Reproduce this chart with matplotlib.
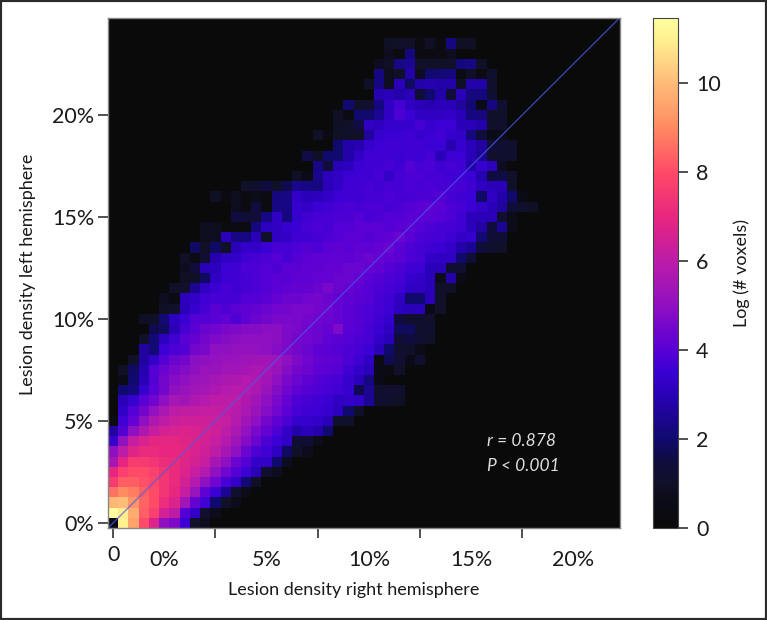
import matplotlib
matplotlib.use("Agg")
import matplotlib.pyplot as plt
import numpy as np
from matplotlib.colors import LinearSegmentedColormap
from matplotlib.patches import Rectangle

plt.rcParams['font.family'] = ['Lato', 'DejaVu Sans']

# first occupied column of every row, bottom row first (1 column = 0.5 %)
first_col = [0, 0, 0, 0, 0, 0, 0, 0, 0, 0, 0, 1, 1, 1, 1, 1, 2, 3, 3, 4, 3, 5, 5, 6,
             7, 7, 7, 8, 9, 9, 12, 12, 10, 13, 18, 20, 19, 22, 20, 22, 22, 23, 26, 25, 26, 26, 27, 27]

# log(# voxels) per cell, row by row
log_voxels = [
    [.5, 11, 9.5, 8, 6.7, 5, 4.7, 3.5, 1, .8],
    [11.4, 10.9, 9.7, 8.3, 7.7, 6.5, 6, 3.9, 3.3, 1.1, .7],
    [9.9, 10, 9.2, 8.4, 8, 7.2, 6.7, 5.4, 4.2, 3.6, 2, 1, .7],
    [8.6, 9, 8.8, 8.3, 8, 7.4, 7, 6.2, 5.2, 4.1, 3.5, 2.5, 1.1, .7],
    [7.6, 8.3, 8.3, 8.1, 7.9, 7.4, 7.1, 6.5, 5.8, 5, 4.4, 3.7, 3.3, 2.1, .9],
    [7, 7.7, 8, 8, 7.7, 7.4, 7.1, 6.7, 6.2, 5.8, 5, 4.4, 3.9, 3.5, 3, 1.1, .8],
    [5.5, 6.9, 7.6, 7.6, 7.4, 7.2, 7.1, 6.8, 6.5, 6.2, 5.5, 5, 4.3, 3.9, 3.3, 3.3, 2, .8],
    [5, 6, 6.8, 7.1, 7.1, 7, 7, 6.9, 6.6, 6.4, 6, 5.5, 5, 4.3, 3.8, 3.6, 3.2, 1.9, 1, .7],
    [3.4, 5.1, 6.2, 6.6, 6.9, 6.9, 6.9, 6.8, 6.7, 6.5, 6.2, 5.8, 5.3, 4.8, 4.3, 3.8, 3.5, 3.2, 1.3, 1.3, .7],
    [2.7, 3.9, 5, 5.7, 6.2, 6.5, 6.6, 6.7, 6.6, 6.5, 6.4, 6, 5.6, 5.1, 4.6, 4.2, 3.8, 3.3, 2.8, 3, 2.8, 2],
    [.3, 3.6, 4.2, 5, 5.7, 6, 6.3, 6.4, 6.4, 6.4, 6.3, 6.2, 5.8, 5.4, 5, 4.5, 4.1, 3.8, 3.4, 3.4, 3.3, 3, 1, 1],
    [3.3, 3.9, 4.5, 5.1, 5.6, 6, 6.1, 6.1, 6.2, 6.2, 6.1, 5.9, 5.6, 5.2, 4.8, 4.4, 4, 3.7, 3.6, 3.5, 3.4, 3.1, 2, 1],
    [3, 3.4, 4, 4.4, 5, 5.5, 5.4, 5.7, 5.8, 6, 6, 6, 5.7, 5.4, 5, 4.6, 4.2, 3.8, 3.7, 3.6, 3.5, 3.2, 3.3, 3.2, 2.5, 1.2, 1.1, .9],
    [2, 2.2, 3.4, 4, 4.5, 5, 5.2, 5.4, 5.5, 5.7, 5.8, 5.9, 5.8, 5.6, 5.2, 4.8, 4.4, 4.1, 3.9, 3.8, 3.7, 3.6, 3.4, 1.7, 2.5, 1.1, 1.1, 1.1],
    [.5, 2, 3, 3.9, 4.5, 4.8, 5, 5.2, 5.3, 5.5, 5.6, 5.7, 5.8, 5.7, 5.4, 5, 4.6, 4.3, 4.1, 3.9, 3.8, 3.7, 3.4, 3, 2.2, .5],
    [.9, 1.9, 2.9, 3.9, 4.3, 4.6, 4.8, 5, 5.2, 5.2, 5.4, 5.4, 5.5, 5.6, 5.5, 5.2, 4.8, 4.5, 4.3, 4.1, 4, 3.9, 3.6, 3.3, 3, .5, .3, 1],
    [1, 2.7, 3.3, 3.9, 4.3, 4.5, 4.9, 5, 5.1, 5.2, 5.2, 5.3, 5.4, 5.4, 5.3, 5, 4.7, 4.4, 4.2, 4.1, 4, 3.8, 3.6, 3.2, .4, 1.7, 1.2, .5, 1.1],
    [2.7, 2.1, 3.5, 3.8, 3.9, 4.5, 4.6, 5, 5, 5.1, 5.1, 5.1, 5, 4.8, 4.7, 4.5, 4.3, 4.1, 4, 3.9, 3.8, 3.7, 3.5, 3, 2, 1.1, 1, .6],
    [1, 2.1, 3.1, 3.6, 4, 4.2, 4.5, 4.7, 4.8, 4.9, 5, 5, 5, 4.9, 4.7, 4.5, 4.4, 4.3, 4.1, 4, 3.9, 3.8, 3.7, 3.3, 3, 1.3, 1.5, 1.2, 1],
    [1.7, 1.8, 3, 3.7, 4, 4.3, 4.4, 4.6, 4.7, 4.8, 4.8, 4.9, 4.9, 4.7, 4.6, 4.4, 4.3, 4.2, 4.7, 4, 3.9, 3.7, 3.5, 3.2, 1.8, 1.8, 1.1, 1.1],
    [.9, .9, 2.1, 3.1, 3.5, 3.9, 3.9, 4, 4.1, 3.8, 4.1, 4.3, 4.5, 4.6, 4.6, 4.6, 4.5, 4.4, 4.3, 4.2, 4, 3.9, 3.8, 3.6, 3.4, 1.5, 1.1, 1.1, 1.1],
    [.9, 1, 3, 3.4, 3.7, 4, 3.8, 4, 4.1, 4.2, 4.3, 4.4, 4.5, 4.6, 4.6, 4.5, 4.4, 4.2, 4, 3.9, 3.8, 3.7, 3.5, 3.1, 3, 3, .5, 1],
    [.8, .4, 3.1, 3.3, 3.6, 3.7, 3.7, 3.7, 3.9, 3.9, 4, 4.2, 4.3, 4.3, 4.4, 4.5, 4.3, 4.2, 4.1, 4, 3.9, 3.7, 3.6, 3.2, 2, 2, 3, 1],
    [1, 1.1, 2.5, 3.2, 3.5, 3.7, 3.6, 3.7, 3.8, 3.9, 4, 4.1, 4.2, 4.2, 4.3, 4.6, 4.3, 4.2, 4.1, 3.9, 3.8, 3.7, 3.6, 3.2, 3.2, 3, 1, 1],
    [.9, .9, 1.8, 3.2, 3.5, 3.6, 3.7, 3.8, 3.9, 4, 4, 4.1, 4.1, 4.2, 4.2, 4.3, 4.3, 4.2, 4, 3.9, 3.8, 3.7, 3.4, 3.3, 3, .7, 2.8, .5],
    [.8, 1.4, 3, 3.1, 3.5, 3.6, 3.8, 3.8, 3.9, 3.8, 4, 4, 4.1, 4.1, 4.2, 4.2, 4.3, 4.3, 4.2, 4.1, 3.9, 3.8, 3.6, 3.5, 3, 3, 1.2, 1.2],
    [.9, .4, 1.2, 2.9, 3.2, 3.3, 3.6, 3.7, 3.8, 3.9, 3.7, 3.9, 4, 4.1, 4.1, 4.1, 4.1, 4.2, 4.3, 4.2, 4.1, 4, 3.8, 3.7, 3.3, 3.2, 3.2, 2, 1.3],
    [1.9, .9, 1.9, 1, 3, 3.3, 3.3, 3.5, 3.7, 3.7, 3.8, 3.9, 3.8, 4, 4.1, 4, 4.1, 4.1, 4.2, 4.3, 4, 3.8, 3.7, 3.6, 3.5, 3.3, 2.8, 2.5, 1.4, 1.1, .9],
    [.8, .8, 3, 2.3, 2.2, 3, 1, 3.2, 3.3, 3.6, 3.6, 3.7, 3.8, 3.9, 4, 4, 3.9, 4, 4.1, 4.3, 4, 3.8, 3.7, 3.7, 3.5, 3.3, 3.4, 2.1, 1.3, 1.3],
    [.8, .8, .3, .3, .3, 2.2, 3.1, 3.2, 3.4, 3.5, 3.7, 3.8, 3.7, 3.9, 3.9, 4, 4, 4, 3.9, 4, 4.1, 3.9, 3.8, 3.7, 3.7, 3.6, 3.1, 2.7, 1.4, 2.5, .6],
    [1.5, 1.3, 1.3, 2.3, 3.2, 2.2, 3.4, 3.6, 3.7, 3.7, 3.8, 3.8, 3.9, 3.7, 3.8, 3.9, 3.9, 4, 4, 4, 3.9, 3.8, 3.6, 3, 3, 3, 1.2, .6],
    [.8, .3, 1.5, .3, 2.3, 2.3, 3.4, 3.3, 3.5, 3.6, 3.7, 3.8, 3.7, 3.8, 3.8, 3.7, 3.8, 3.9, 4, 4.1, 4, 3.8, 3.7, 3.5, 3.3, 3, 2.6, 1.4, 1.1, .9],
    [.9, .3, .8, .3, .7, .3, 2.2, 2.3, 3.3, 3, 3.1, 3.3, 3.5, 3.6, 3.6, 3.7, 3.7, 3.8, 3.7, 3.7, 3.8, 3.8, 3.9, 3.7, 3.6, 3.5, 1.9, 3.2, 2.8, 2, .5],
    [1, 1.1, 1.5, 1, 1.7, 2.4, 2.3, 2.2, 3, 3.3, 3.6, 3.6, 3.7, 3.6, 3.7, 3.7, 3.8, 3.7, 3.8, 3.7, 3.7, 3.7, 3.6, 3.2, 3, 3, 1],
    [.9, .5, 2.4, 3.1, 3.2, 3.5, 3.6, 3.6, 3.7, 3.3, 3.7, 3.8, 3.8, 3.7, 3.7, 3.6, 3.6, 3.5, 2.9, 1.5, 1.6, 1],
    [2.3, 1.3, 3, 3.1, 3.5, 3.6, 3.6, 3.7, 3.6, 3.9, 3.7, 3.8, 3.6, 3.7, 3.6, 2.8, 3.4, 3.1, .8],
    [1.6, .9, 2, 2, 2.8, 3.3, 3.6, 3.6, 3.6, 3.5, 3.6, 3.5, 3.7, 3, 3.5, 3.5, 3, 2.5, 1, 1.1, 1.1],
    [2, 2.8, 2.9, 3.4, 3.5, 3.6, 3.6, 3.6, 3.6, 3.5, 3.5, 2.9, 3.4, 3, 2.7, 1.3, 1.2, 1.1],
    [1, .3, 1, 1, 1, 2.6, 3.4, 3.5, 3.5, 3.6, 3.4, 3.5, 3.6, 3.4, 3.3, 2.2, 1.4, .5, .7],
    [.9, 1, 1.6, 3.2, 3.1, 3.4, 3.4, 3.4, 3.7, 3.4, 3.5, 3.5, 3, 3, 2.8, 1, 1.1],
    [.9, .3, 2, 2, 2.5, 3.2, 3.8, 3.5, 3.2, 3.2, 3.2, 3.3, 3, 2.2, 2.2, 1, 1],
    [2, 1, 1.2, 2.2, 3.2, 3.7, 3.2, 3, 2.9, 3, 3, 2.6, 2.1, .5, 2.2, 1.2],
    [2.9, 3, 2.8, 3, 1.3, 2, 2.8, 1.3, 3, 2.2, 2.2, 1.2],
    [1, 2.2, .8, 3, 1.8, 2.8, 2.9, 2.8, 2.8, .9, 2.8, 2.8, 1],
    [2.2, .8, 1, 2.8, .8, 2, 2.1, 2.2, .4, .9, .3, 1.1],
    [.8, .9, 2.3, 2.5, 1, 1, 1, 1, 2.2, 2.3, 1],
    [.8, .3, 2.2, .3, .3, .3, .8],
    [.9, 1, 1, .3, .9, .3, 2.2, .9, .9],
]

pct_ticks = [0, 5, 10, 15, 20]

# colour stops taken from the colour bar
cbar_max = 11.46
stops = [(0, '#0a0a0a'), (.7, '#0c0c1c'), (1, '#10102a'), (1.5, '#100c40'), (2, '#100a70'), (3, '#2a00b8'),
         (3.5, '#3a00d4'), (4, '#5a00d4'), (4.5, '#7406cc'), (5, '#9010c0'), (6, '#bc1ca8'), (7, '#e8267f'),
         (8, '#ff4a68'), (9, '#ff8a60'), (10, '#ffba78'), (11, '#fff090'), (cbar_max, '#ffffa0')]
cmap = LinearSegmentedColormap.from_list('lesion', [(v / cbar_max, c) for v, c in stops])

grid = np.zeros((50, 50))
for r, (start, vals) in enumerate(zip(first_col, log_voxels)):
    grid[r, start:start + len(vals)] = vals

edges = (np.arange(51) - 0.5) * 0.5

W, H = 767, 620
fig = plt.figure(figsize=(W / 100, H / 100), dpi=100)
fig.add_artist(Rectangle((0, 0), 1, 1, transform=fig.transFigure, fill=False, ec='#2a2a2a', lw=3))

ax = fig.add_axes([108 / W, (H - 528) / H, 511.5 / W, 510 / H])
mesh = ax.pcolormesh(edges, edges, grid, cmap=cmap, vmin=0, vmax=cbar_max)
ax.plot([edges[0], edges[-1]], [edges[0], edges[-1]], color='#4a5ae8', lw=1, alpha=.7)
ax.set_xlim(edges[0], edges[-1])
ax.set_ylim(edges[0], edges[-1])

ax.set_yticks(pct_ticks, [f'{t}%' for t in pct_ticks])
ax.set_xticks(pct_ticks, ['0', '', '', '', ''])
# the % labels sit half way between the ticks in the original
ax.set_xticks([t + 2.5 for t in pct_ticks], [f'{t}%' for t in pct_ticks], minor=True)
ax.tick_params(axis='both', which='major', length=7, width=1.2, color='#333333', labelsize=15.5, labelcolor='#1a1a1a', pad=5)
ax.tick_params(axis='y', which='major', pad=3)
ax.tick_params(axis='x', which='minor', length=0, labelsize=15.5, labelcolor='#1a1a1a', pad=16)
for s in ax.spines.values():
    s.set_color('#888888')
    s.set_linewidth(1)

ax.set_xlabel('Lesion density right hemisphere', fontsize=13, color='#1a1a1a')
ax.xaxis.set_label_coords((354 - 108) / 511.5, -(590 - 528) / 510, transform=ax.transAxes)
ax.xaxis.label.set_va('center')
ax.set_ylabel('Lesion density left hemisphere', fontsize=13, color='#1a1a1a')
ax.yaxis.set_label_coords(-(108 - 28) / 511.5, (528 - 274) / 510, transform=ax.transAxes)
ax.yaxis.label.set_va('center')

ax.text(18.27, 4.0, 'r = 0.878', color='#dddddd', style='italic', fontsize=12.5, va='center')
ax.text(18.27, 2.8, 'P < 0.001', color='#dddddd', style='italic', fontsize=12.5, va='center')

cax = fig.add_axes([653 / W, (H - 527.5) / H, 25 / W, 509.5 / H])
cb = fig.colorbar(mesh, cax=cax)
cb.set_ticks([0, 2, 4, 6, 8, 10])
cb.ax.tick_params(length=7, width=1.2, color='#333333', labelsize=15.5, labelcolor='#1a1a1a', pad=6)
cb.outline.set_edgecolor('#444444')
cb.set_label('Log (# voxels)', fontsize=13, color='#1a1a1a', labelpad=9)

fig.savefig('out.png', dpi=100)
